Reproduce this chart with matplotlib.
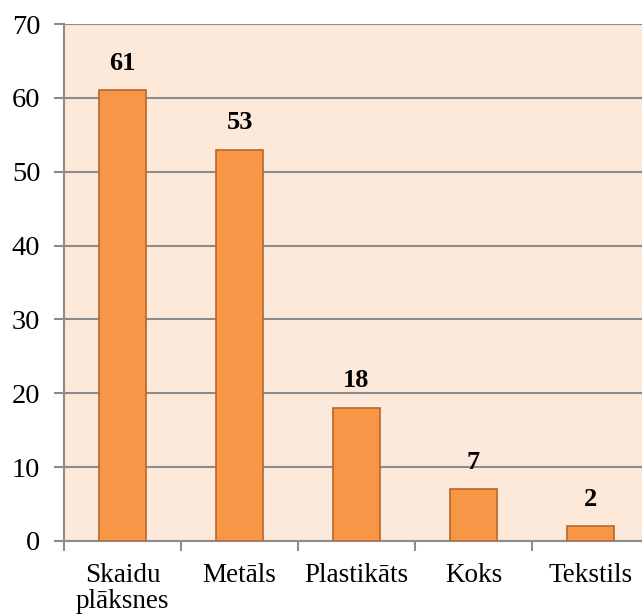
import matplotlib
matplotlib.use("Agg")
import matplotlib.pyplot as plt

categories = ["Skaidu\nplāksnes", "Metāls", "Plastikāts", "Koks", "Tekstils"]
values = [61, 53, 18, 7, 2]
yticks = [0, 10, 20, 30, 40, 50, 60, 70]

plt.rcParams['font.family'] = ['Liberation Serif', 'DejaVu Serif']

fig = plt.figure(figsize=(6.42, 6.16), dpi=100)
W, H = 642, 616
left, right = 64, 649
top, bottom = 24, 541
ax = fig.add_axes([left / W, 1 - bottom / H, (right - left) / W, (bottom - top) / H])
ax.set_facecolor('#FDE9DA')

x = list(range(len(categories)))
bars = ax.bar(x, values, width=0.4, color='#F79646', edgecolor='#B8662A', linewidth=1.2, zorder=3)
for xi, v in zip(x, values):
    ax.annotate(str(v), (xi, v), xytext=(0, 19.5), textcoords='offset points',
                ha='center', va='center', fontsize=19, fontweight='bold', zorder=4)

ax.set_xlim(-0.5, len(categories) - 0.5)
ax.set_ylim(0, 70)
ax.set_yticks(yticks)
ax.set_yticklabels([str(t) for t in yticks], fontsize=20.5)
ax.yaxis.grid(True, color='#8C8C8C', linewidth=1.5, zorder=1)
ax.set_axisbelow(True)

ax.set_xticks(x)
ax.set_xticklabels(categories, fontsize=19.5, linespacing=1.05)
ax.set_xticks([i - 0.5 for i in range(len(categories) + 1)], minor=True)
ax.tick_params(axis='x', which='major', length=0, pad=16)
ax.tick_params(axis='x', which='minor', length=7, color='#8C8C8C', width=1.5)
ax.tick_params(axis='y', length=7, color='#8C8C8C', width=1.5, pad=10)

for s in ['top', 'right']:
    ax.spines[s].set_visible(False)
for s in ['left', 'bottom']:
    ax.spines[s].set_color('#8C8C8C')
    ax.spines[s].set_linewidth(1.5)

fig.savefig('out.png', dpi=100, facecolor='white')
